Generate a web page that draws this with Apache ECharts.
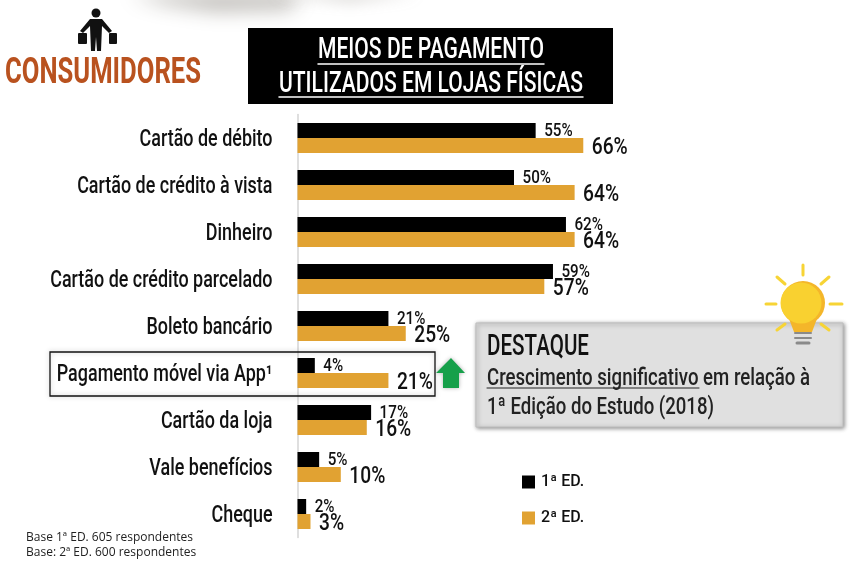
<!DOCTYPE html>
<html>
<head>
<meta charset="utf-8">
<style>html,body{margin:0;padding:0;background:#fff}#chart{width:852px;height:564px}</style>
<script src="https://cdn.jsdelivr.net/npm/echarts@6/dist/echarts.min.js"></script>
</head>
<body>
<div id="chart"></div>
<script>
// chart data
const categories = ['Cartão de débito', 'Cartão de crédito à vista', 'Dinheiro', 'Cartão de crédito parcelado', 'Boleto bancário', 'Pagamento móvel via App¹', 'Cartão da loja', 'Vale benefícios', 'Cheque'];
const edition1 = [55, 50, 62, 59, 21, 4, 17, 5, 2];
const edition2 = [66, 64, 64, 57, 25, 21, 16, 10, 3];
const seriesNames = ['1ª ED.', '2ª ED.'];

// no condensed font is installed, so text is squeezed horizontally
const face = 'Roboto, sans-serif';
const squeeze = 0.78;
const chart = echarts.init(document.getElementById('chart'));

const ctx = document.createElement('canvas').getContext('2d');
function fitScale(text, size, weight, width) {
  ctx.font = weight + ' ' + size + 'px Roboto';
  return width / ctx.measureText(text).width;
}
// text squeezed so that it spans the given width
function txt(x, y, text, size, color, width, extra) {
  const weight = (extra && extra.fontWeight) || 500;
  return { type: 'text', x: x, y: y, scaleX: fitScale(text, size, weight, width), z: 20, style: Object.assign({
    text: text, fontFamily: face, fontWeight: 500, fontSize: size, fill: color, verticalAlign: 'middle'
  }, extra || {}) };
}
function ln(x1, y1, x2, y2, color, w) {
  return { type: 'line', z: 21, shape: { x1, y1, x2, y2 }, style: { stroke: color, lineWidth: w, lineCap: 'round' } };
}

const graphics = [
  // grey swoosh behind the header: only the blurred shadow of an off-canvas shape shows
  { type: 'polygon', z: 0, shape: { points: [[130, -106], [300, -106], [290, -92], [215, -90], [165, -97]] },
    style: { fill: '#c9c7c2', shadowBlur: 20, shadowOffsetY: 100, shadowColor: 'rgba(175,172,166,0.95)' } },
  { type: 'polygon', z: 0, shape: { points: [[270, -106], [420, -106], [350, -98]] },
    style: { fill: '#c9c7c2', shadowBlur: 14, shadowOffsetY: 100, shadowColor: 'rgba(200,198,194,0.8)' } },
  // consumer icon
  { type: 'circle', z: 20, shape: { cx: 96, cy: 13, r: 4.5 }, style: { fill: '#111' } },
  { type: 'polygon', z: 20, shape: { points: [[90, 19], [102, 19], [112, 31], [109, 33], [102, 26], [101, 51], [97, 51], [96, 37], [95, 51], [91, 51], [90, 26], [83, 33], [80, 31]] }, style: { fill: '#111' } },
  { type: 'rect', z: 20, shape: { x: 78, y: 33, width: 9, height: 11, r: 1 }, style: { fill: '#111' } },
  { type: 'rect', z: 20, shape: { x: 109, y: 33, width: 8, height: 11, r: 1 }, style: { fill: '#111' } },
  txt(5, 74, 'CONSUMIDORES', 36, '#b9521f', 196, { fontWeight: 700, shadowBlur: 3, shadowColor: 'rgba(0,0,0,0.35)', shadowOffsetY: 2 }),
  // title
  { type: 'rect', z: 10, shape: { x: 248, y: 28, width: 365, height: 76 }, style: { fill: '#000' } },
  txt(318, 50.5, 'MEIOS DE PAGAMENTO', 30, '#fff', 226),
  txt(279, 84.5, 'UTILIZADOS EM LOJAS FÍSICAS', 30, '#fff', 304),
  ln(318, 64, 544, 64, '#fff', 1.5),
  ln(279, 97, 583, 97, '#fff', 1.5),
  // highlighted row
  { type: 'rect', z: 15, shape: { x: 50, y: 352, width: 385, height: 44 }, style: { fill: 'none', stroke: '#111', lineWidth: 1.3, shadowBlur: 5, shadowColor: 'rgba(0,0,0,0.25)' } },
  // arrow
  { type: 'polygon', z: 20, shape: { points: [[451, 358], [465, 373], [459, 373], [459, 388], [443, 388], [443, 373], [436, 373]] }, style: { fill: '#16a04a', shadowBlur: 4, shadowColor: 'rgba(0,0,0,0.3)' } },
  // highlight box
  { type: 'rect', z: 10, shape: { x: 476, y: 323, width: 367, height: 104 }, style: { fill: '#e0e0e0', stroke: '#bdbdbd', lineWidth: 1, shadowBlur: 4, shadowOffsetX: 1, shadowOffsetY: 1, shadowColor: 'rgba(0,0,0,0.45)' } },
  txt(487, 347, 'DESTAQUE', 30, '#111', 102),
  txt(487, 379, 'Crescimento significativo em relação à', 24, '#222', 323),
  txt(487, 408, '1ª Edição do Estudo (2018)', 24, '#222', 227),
  ln(487, 388, 699, 388, '#222', 1),
  // light bulb
  ln(803, 265, 803, 275, '#f7d435', 3),
  ln(777, 277, 785, 284, '#f7d435', 3),
  ln(829, 277, 821, 284, '#f7d435', 3),
  ln(766, 304, 776, 304, '#f7d435', 3),
  ln(830, 304, 842, 304, '#f7d435', 3),
  ln(777, 330, 785, 324, '#f7d435', 3),
  ln(821, 324, 829, 330, '#f7d435', 3),
  { type: 'polygon', z: 20, shape: { points: [[788, 316], [818, 316], [812, 332], [794, 332]] }, style: { fill: '#f4b62a' } },
  { type: 'circle', z: 20, shape: { cx: 803, cy: 303, r: 22 }, style: { fill: '#f4b62a' } },
  { type: 'circle', z: 20, shape: { cx: 801, cy: 303, r: 20.5 }, style: { fill: '#f9d130' } },
  ln(795, 333, 811, 333, '#8a8a8a', 2),
  ln(795, 338, 811, 338, '#8a8a8a', 2),
  ln(797, 343, 809, 343, '#8a8a8a', 3),
  // footnote
  { type: 'text', x: 26, y: 538, z: 20, style: { text: 'Base 1ª ED. 605 respondentes', fontFamily: '"Open Sans", sans-serif', fontSize: 12, fill: '#222', verticalAlign: 'middle' } },
  { type: 'text', x: 26, y: 553, z: 20, style: { text: 'Base: 2ª ED. 600 respondentes', fontFamily: '"Open Sans", sans-serif', fontSize: 12, fill: '#222', verticalAlign: 'middle' } }
];

function barSeries(name, values, color) {
  return { name: name, type: 'bar', data: values, barWidth: 15, barGap: 0, itemStyle: { color: color }, z: 5 };
}

// value label at the end of a bar, squeezed like the rest of the text
function valueLabels(values, size, offsetY) {
  return {
    type: 'custom', silent: true, z: 8, clip: false,
    data: values.map((v, i) => [v, i]),
    encode: { x: 0, y: 1 },
    renderItem: (params, api) => {
      const p = api.coord([api.value(0), api.value(1)]);
      return { type: 'text', x: p[0] + 8.5, y: p[1] + offsetY, scaleX: 0.8, style: {
        text: api.value(0) + '%', fontFamily: face, fontWeight: 500, fontSize: size, fill: '#111', verticalAlign: 'middle'
      } };
    }
  };
}

const categoryLabels = {
  type: 'custom', silent: true, z: 8, clip: false,
  data: categories.map((c, i) => [0, i]),
  encode: { x: 0, y: 1 },
  renderItem: (params, api) => {
    const p = api.coord([0, api.value(1)]);
    return { type: 'text', x: p[0] - 25, y: p[1] + 2, scaleX: squeeze, style: {
      text: categories[params.dataIndex], fontFamily: face, fontWeight: 500, fontSize: 23, fill: '#111', align: 'right', verticalAlign: 'middle'
    } };
  }
};

chart.setOption({
  animation: false,
  backgroundColor: '#fff',
  grid: { left: 297.5, top: 114.5, width: 433, height: 423, outerBoundsMode: 'none' },
  legend: {
    orient: 'vertical', left: 522, top: 474, padding: 0, itemWidth: 13, itemHeight: 13, itemGap: 20,
    icon: 'rect', data: seriesNames,
    textStyle: { fontFamily: face, fontWeight: 500, fontSize: 16, color: '#111', padding: [0, 0, 0, 1] }
  },
  xAxis: { type: 'value', min: 0, max: 100, show: false },
  yAxis: {
    type: 'category', inverse: true, data: categories,
    axisTick: { show: false },
    axisLine: { lineStyle: { color: '#d4d4d4', width: 1.5 } },
    axisLabel: { show: false }
  },
  series: [
    barSeries(seriesNames[0], edition1, '#000000'),
    barSeries(seriesNames[1], edition2, '#e1a232'),
    valueLabels(edition1, 19, -7),
    valueLabels(edition2, 24, 10),
    categoryLabels
  ],
  graphic: graphics
});
</script>
</body>
</html>
